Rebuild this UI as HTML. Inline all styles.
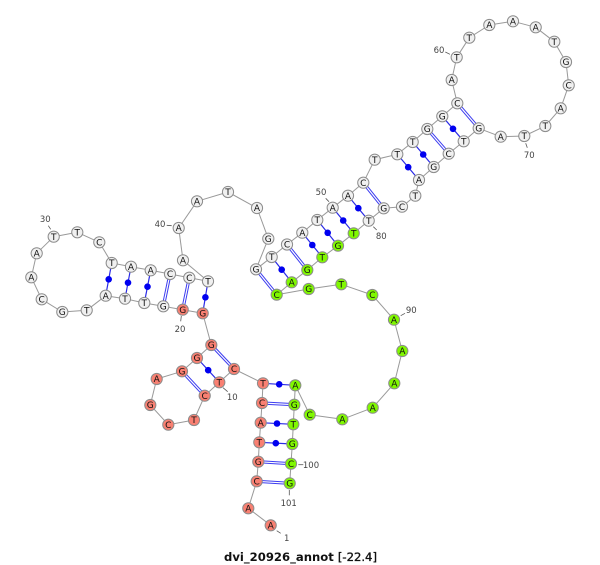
<!DOCTYPE html>
<html><head><meta charset="utf-8"><style>
html,body{margin:0;padding:0;background:#fff;width:600px;height:565px;overflow:hidden}
svg{display:block}
.b line{stroke:#999;stroke-width:1}
.s line{stroke:#2a2ae6;stroke-width:1.2}
.d1 line{stroke:#3c3cf0;stroke-width:3.2}
.d2 line{stroke:#fff;stroke-width:1.2}
.p circle{fill:#0000f0}
.t line{stroke:#555;stroke-width:.8}
.n circle{stroke:#8c8c8c;stroke-width:1;r:5.6px}
.w circle{fill:#f0f0f0}.r circle{fill:#f98072}.g circle{fill:#80f800}
.n text{font:9px "DejaVu Sans",sans-serif;fill:#111;text-anchor:middle}
.l text{font:8.5px "DejaVu Sans",sans-serif;fill:#444;text-anchor:middle}
</style></head><body>
<svg width="600" height="565" viewBox="0 0 600 565" xmlns="http://www.w3.org/2000/svg">
<g class="b">
<line x1="270.7" y1="525.3" x2="248.3" y2="508.3"/><line x1="248.3" y1="508.3" x2="256.7" y2="481.3"/><line x1="256.7" y1="481.3" x2="258.3" y2="461.7"/><line x1="258.3" y1="461.7" x2="259.3" y2="442.3"/><line x1="259.3" y1="442.3" x2="260.7" y2="422.7"/><line x1="260.7" y1="422.7" x2="262" y2="403"/><line x1="262" y1="403" x2="263" y2="383.3"/><line x1="263" y1="383.3" x2="234" y2="369"/><line x1="234" y1="369" x2="219.3" y2="382.3"/><line x1="219.3" y1="382.3" x2="204.7" y2="395.7"/><line x1="204.7" y1="395.7" x2="194" y2="420"/><line x1="194" y1="420" x2="168.3" y2="424.7"/><line x1="168.3" y1="424.7" x2="150.3" y2="405"/><line x1="150.3" y1="405" x2="156.7" y2="379"/><line x1="156.7" y1="379" x2="182" y2="371.3"/><line x1="182" y1="371.3" x2="197" y2="358"/><line x1="197" y1="358" x2="211.3" y2="345"/><line x1="211.3" y1="345" x2="202.7" y2="313.3"/><line x1="202.7" y1="313.3" x2="182.7" y2="309.7"/><line x1="182.7" y1="309.7" x2="163.3" y2="306.3"/><line x1="163.3" y1="306.3" x2="144.3" y2="303"/><line x1="144.3" y1="303" x2="125" y2="298.7"/><line x1="125" y1="298.7" x2="105.7" y2="295.7"/><line x1="105.7" y1="295.7" x2="86.7" y2="310.3"/><line x1="86.7" y1="310.3" x2="62.3" y2="312"/><line x1="62.3" y1="312" x2="41.7" y2="299.3"/><line x1="41.7" y1="299.3" x2="31.3" y2="277.3"/><line x1="31.3" y1="277.3" x2="36.7" y2="253.3"/><line x1="36.7" y1="253.3" x2="53.7" y2="236.7"/><line x1="53.7" y1="236.7" x2="77.3" y2="232.3"/><line x1="77.3" y1="232.3" x2="99.3" y2="242.3"/><line x1="99.3" y1="242.3" x2="111.7" y2="263"/><line x1="111.7" y1="263" x2="131" y2="266.7"/><line x1="131" y1="266.7" x2="150.7" y2="270.3"/><line x1="150.7" y1="270.3" x2="170" y2="274"/><line x1="170" y1="274" x2="189.3" y2="277.7"/><line x1="189.3" y1="277.7" x2="208" y2="281.3"/><line x1="208" y1="281.3" x2="183" y2="260.3"/><line x1="183" y1="260.3" x2="178.7" y2="228"/><line x1="178.7" y1="228" x2="197" y2="201.3"/><line x1="197" y1="201.3" x2="228" y2="192"/><line x1="228" y1="192" x2="257" y2="208"/><line x1="257" y1="208" x2="268.3" y2="238.7"/><line x1="268.3" y1="238.7" x2="256" y2="269.3"/><line x1="256" y1="269.3" x2="271.7" y2="257"/><line x1="271.7" y1="257" x2="287" y2="244.5"/><line x1="287" y1="244.5" x2="302.3" y2="232.7"/><line x1="302.3" y1="232.7" x2="317.3" y2="220"/><line x1="317.3" y1="220" x2="332.7" y2="207.7"/><line x1="332.7" y1="207.7" x2="348" y2="195.7"/><line x1="348" y1="195.7" x2="363.3" y2="182.7"/><line x1="363.3" y1="182.7" x2="374.7" y2="159.7"/><line x1="374.7" y1="159.7" x2="397.3" y2="154.3"/><line x1="397.3" y1="154.3" x2="412.7" y2="142"/><line x1="412.7" y1="142" x2="427.3" y2="129"/><line x1="427.3" y1="129" x2="442.3" y2="116.3"/><line x1="442.3" y1="116.3" x2="457.3" y2="103.3"/><line x1="457.3" y1="103.3" x2="451.7" y2="80"/><line x1="451.7" y1="80" x2="456.7" y2="57.3"/><line x1="456.7" y1="57.3" x2="469.3" y2="37.7"/><line x1="469.3" y1="37.7" x2="489.3" y2="25"/><line x1="489.3" y1="25" x2="513" y2="21.3"/><line x1="513" y1="21.3" x2="535.7" y2="27.3"/><line x1="535.7" y1="27.3" x2="554.3" y2="41.7"/><line x1="554.3" y1="41.7" x2="566" y2="62"/><line x1="566" y1="62" x2="568.7" y2="85.3"/><line x1="568.7" y1="85.3" x2="560.7" y2="108.3"/><line x1="560.7" y1="108.3" x2="545.3" y2="126"/><line x1="545.3" y1="126" x2="524.3" y2="136"/><line x1="524.3" y1="136" x2="500.7" y2="136.7"/><line x1="500.7" y1="136.7" x2="478.7" y2="128.3"/><line x1="478.7" y1="128.3" x2="463.7" y2="141.3"/><line x1="463.7" y1="141.3" x2="448.7" y2="153.7"/><line x1="448.7" y1="153.7" x2="433.7" y2="167"/><line x1="433.7" y1="167" x2="419" y2="180"/><line x1="419" y1="180" x2="415.3" y2="195.7"/><line x1="415.3" y1="195.7" x2="402" y2="206.7"/><line x1="402" y1="206.7" x2="383.7" y2="208.3"/><line x1="383.7" y1="208.3" x2="368.7" y2="220.7"/><line x1="368.7" y1="220.7" x2="353.7" y2="233.3"/><line x1="353.7" y1="233.3" x2="338" y2="245.7"/><line x1="338" y1="245.7" x2="322.3" y2="257.3"/><line x1="322.3" y1="257.3" x2="307.3" y2="270"/><line x1="307.3" y1="270" x2="291.7" y2="282.3"/><line x1="291.7" y1="282.3" x2="276.7" y2="294.7"/><line x1="276.7" y1="294.7" x2="308.7" y2="289"/><line x1="308.7" y1="289" x2="341.3" y2="284.3"/><line x1="341.3" y1="284.3" x2="372.3" y2="295"/><line x1="372.3" y1="295" x2="394" y2="319.7"/><line x1="394" y1="319.7" x2="402.3" y2="351"/><line x1="402.3" y1="351" x2="394.3" y2="383.3"/><line x1="394.3" y1="383.3" x2="372.7" y2="407.7"/><line x1="372.7" y1="407.7" x2="342.3" y2="419.3"/><line x1="342.3" y1="419.3" x2="309.7" y2="414.7"/><line x1="309.7" y1="414.7" x2="295.3" y2="385.3"/><line x1="295.3" y1="385.3" x2="294.3" y2="404.7"/><line x1="294.3" y1="404.7" x2="293.3" y2="424.3"/><line x1="293.3" y1="424.3" x2="292.3" y2="444"/><line x1="292.3" y1="444" x2="291" y2="463.7"/><line x1="291" y1="463.7" x2="289.7" y2="483.3"/>
</g>
<g class="s">
<line x1="259.3" y1="442.3" x2="292.3" y2="444"/><line x1="260.7" y1="422.7" x2="293.3" y2="424.3"/><line x1="263" y1="383.3" x2="295.3" y2="385.3"/><line x1="219.3" y1="382.3" x2="197" y2="358"/><line x1="202.7" y1="313.3" x2="208" y2="281.3"/><line x1="144.3" y1="303" x2="150.7" y2="270.3"/><line x1="125" y1="298.7" x2="131" y2="266.7"/><line x1="105.7" y1="295.7" x2="111.7" y2="263"/><line x1="271.7" y1="257" x2="291.7" y2="282.3"/><line x1="302.3" y1="232.7" x2="322.3" y2="257.3"/><line x1="317.3" y1="220" x2="338" y2="245.7"/><line x1="332.7" y1="207.7" x2="353.7" y2="233.3"/><line x1="348" y1="195.7" x2="368.7" y2="220.7"/><line x1="397.3" y1="154.3" x2="419" y2="180"/><line x1="412.7" y1="142" x2="433.7" y2="167"/><line x1="442.3" y1="116.3" x2="463.7" y2="141.3"/>
</g>
<g class="d1">
<line x1="256.7" y1="481.3" x2="289.7" y2="483.3"/><line x1="258.3" y1="461.7" x2="291" y2="463.7"/><line x1="262" y1="403" x2="294.3" y2="404.7"/><line x1="234" y1="369" x2="211.3" y2="345"/><line x1="204.7" y1="395.7" x2="182" y2="371.3"/><line x1="182.7" y1="309.7" x2="189.3" y2="277.7"/><line x1="163.3" y1="306.3" x2="170" y2="274"/><line x1="256" y1="269.3" x2="276.7" y2="294.7"/><line x1="287" y1="244.5" x2="307.3" y2="270"/><line x1="363.3" y1="182.7" x2="383.7" y2="208.3"/><line x1="427.3" y1="129" x2="448.7" y2="153.7"/><line x1="457.3" y1="103.3" x2="478.7" y2="128.3"/>
</g>
<g class="d2">
<line x1="256.7" y1="481.3" x2="289.7" y2="483.3"/><line x1="258.3" y1="461.7" x2="291" y2="463.7"/><line x1="262" y1="403" x2="294.3" y2="404.7"/><line x1="234" y1="369" x2="211.3" y2="345"/><line x1="204.7" y1="395.7" x2="182" y2="371.3"/><line x1="182.7" y1="309.7" x2="189.3" y2="277.7"/><line x1="163.3" y1="306.3" x2="170" y2="274"/><line x1="256" y1="269.3" x2="276.7" y2="294.7"/><line x1="287" y1="244.5" x2="307.3" y2="270"/><line x1="363.3" y1="182.7" x2="383.7" y2="208.3"/><line x1="427.3" y1="129" x2="448.7" y2="153.7"/><line x1="457.3" y1="103.3" x2="478.7" y2="128.3"/>
</g>
<g class="p">
<circle cx="275.8" cy="443.2" r="3.3"/><circle cx="277" cy="423.5" r="3.3"/><circle cx="279.2" cy="384.3" r="3.3"/><circle cx="208.2" cy="370.2" r="3.3"/><circle cx="205.4" cy="297.3" r="3.3"/><circle cx="147.5" cy="286.7" r="3.3"/><circle cx="128" cy="282.7" r="3.3"/><circle cx="108.7" cy="279.3" r="3.3"/><circle cx="281.7" cy="269.7" r="3.3"/><circle cx="312.3" cy="245" r="3.3"/><circle cx="327.7" cy="232.8" r="3.3"/><circle cx="343.2" cy="220.5" r="3.3"/><circle cx="358.3" cy="208.2" r="3.3"/><circle cx="408.2" cy="167.2" r="3.3"/><circle cx="423.2" cy="154.5" r="3.3"/><circle cx="453" cy="128.8" r="3.3"/>
</g>
<g class="t">
<line x1="276.7" y1="530.7" x2="280.7" y2="533.3"/><line x1="223" y1="387.7" x2="227.7" y2="391.7"/><line x1="298.3" y1="464.7" x2="303.3" y2="464.7"/><line x1="289.3" y1="490" x2="289.3" y2="495.3"/><line x1="400.7" y1="315.7" x2="405" y2="313.3"/><line x1="373.3" y1="226.7" x2="376.7" y2="230"/><line x1="525.7" y1="143.3" x2="527.3" y2="147.7"/><line x1="445.3" y1="52" x2="450" y2="54.3"/><line x1="325.7" y1="198.3" x2="329" y2="201.7"/><line x1="166.7" y1="225.3" x2="171.7" y2="225.7"/><line x1="48.3" y1="225.7" x2="50.7" y2="229.3"/><line x1="181.3" y1="316" x2="180.7" y2="321.3"/>
</g>
<g class="n r">
<circle cx="270.7" cy="525.3"/><text x="270.7" y="528.5">A</text>
<circle cx="248.3" cy="508.3"/><text x="248.3" y="511.5">A</text>
<circle cx="256.7" cy="481.3"/><text x="256.7" y="484.5">C</text>
<circle cx="258.3" cy="461.7"/><text x="258.3" y="464.9">G</text>
<circle cx="259.3" cy="442.3"/><text x="259.3" y="445.5">T</text>
<circle cx="260.7" cy="422.7"/><text x="260.7" y="425.9">A</text>
<circle cx="262" cy="403"/><text x="262" y="406.2">C</text>
<circle cx="263" cy="383.3"/><text x="263" y="386.5">T</text>
<circle cx="234" cy="369"/><text x="234" y="372.2">C</text>
<circle cx="219.3" cy="382.3"/><text x="219.3" y="385.5">T</text>
<circle cx="204.7" cy="395.7"/><text x="204.7" y="398.9">C</text>
<circle cx="194" cy="420"/><text x="194" y="423.2">T</text>
<circle cx="168.3" cy="424.7"/><text x="168.3" y="427.9">C</text>
<circle cx="150.3" cy="405"/><text x="150.3" y="408.2">G</text>
<circle cx="156.7" cy="379"/><text x="156.7" y="382.2">A</text>
<circle cx="182" cy="371.3"/><text x="182" y="374.5">G</text>
<circle cx="197" cy="358"/><text x="197" y="361.2">G</text>
<circle cx="211.3" cy="345"/><text x="211.3" y="348.2">G</text>
<circle cx="202.7" cy="313.3"/><text x="202.7" y="316.5">G</text>
<circle cx="182.7" cy="309.7"/><text x="182.7" y="312.9">G</text>
</g>
<g class="n w">
<circle cx="163.3" cy="306.3"/><text x="163.3" y="309.5">G</text>
<circle cx="144.3" cy="303"/><text x="144.3" y="306.2">T</text>
<circle cx="125" cy="298.7"/><text x="125" y="301.9">T</text>
<circle cx="105.7" cy="295.7"/><text x="105.7" y="298.9">A</text>
<circle cx="86.7" cy="310.3"/><text x="86.7" y="313.5">T</text>
<circle cx="62.3" cy="312"/><text x="62.3" y="315.2">G</text>
<circle cx="41.7" cy="299.3"/><text x="41.7" y="302.5">C</text>
<circle cx="31.3" cy="277.3"/><text x="31.3" y="280.5">A</text>
<circle cx="36.7" cy="253.3"/><text x="36.7" y="256.5">A</text>
<circle cx="53.7" cy="236.7"/><text x="53.7" y="239.9">T</text>
<circle cx="77.3" cy="232.3"/><text x="77.3" y="235.5">T</text>
<circle cx="99.3" cy="242.3"/><text x="99.3" y="245.5">C</text>
<circle cx="111.7" cy="263"/><text x="111.7" y="266.2">T</text>
<circle cx="131" cy="266.7"/><text x="131" y="269.9">A</text>
<circle cx="150.7" cy="270.3"/><text x="150.7" y="273.5">A</text>
<circle cx="170" cy="274"/><text x="170" y="277.2">C</text>
<circle cx="189.3" cy="277.7"/><text x="189.3" y="280.9">C</text>
<circle cx="208" cy="281.3"/><text x="208" y="284.5">T</text>
<circle cx="183" cy="260.3"/><text x="183" y="263.5">A</text>
<circle cx="178.7" cy="228"/><text x="178.7" y="231.2">A</text>
<circle cx="197" cy="201.3"/><text x="197" y="204.5">A</text>
<circle cx="228" cy="192"/><text x="228" y="195.2">T</text>
<circle cx="257" cy="208"/><text x="257" y="211.2">A</text>
<circle cx="268.3" cy="238.7"/><text x="268.3" y="241.9">G</text>
<circle cx="256" cy="269.3"/><text x="256" y="272.5">G</text>
<circle cx="271.7" cy="257"/><text x="271.7" y="260.2">T</text>
<circle cx="287" cy="244.5"/><text x="287" y="247.7">C</text>
<circle cx="302.3" cy="232.7"/><text x="302.3" y="235.9">A</text>
<circle cx="317.3" cy="220"/><text x="317.3" y="223.2">T</text>
<circle cx="332.7" cy="207.7"/><text x="332.7" y="210.9">A</text>
<circle cx="348" cy="195.7"/><text x="348" y="198.9">A</text>
<circle cx="363.3" cy="182.7"/><text x="363.3" y="185.9">C</text>
<circle cx="374.7" cy="159.7"/><text x="374.7" y="162.9">T</text>
<circle cx="397.3" cy="154.3"/><text x="397.3" y="157.5">T</text>
<circle cx="412.7" cy="142"/><text x="412.7" y="145.2">T</text>
<circle cx="427.3" cy="129"/><text x="427.3" y="132.2">G</text>
<circle cx="442.3" cy="116.3"/><text x="442.3" y="119.5">G</text>
<circle cx="457.3" cy="103.3"/><text x="457.3" y="106.5">C</text>
<circle cx="451.7" cy="80"/><text x="451.7" y="83.2">A</text>
<circle cx="456.7" cy="57.3"/><text x="456.7" y="60.5">T</text>
<circle cx="469.3" cy="37.7"/><text x="469.3" y="40.9">T</text>
<circle cx="489.3" cy="25"/><text x="489.3" y="28.2">A</text>
<circle cx="513" cy="21.3"/><text x="513" y="24.5">A</text>
<circle cx="535.7" cy="27.3"/><text x="535.7" y="30.5">A</text>
<circle cx="554.3" cy="41.7"/><text x="554.3" y="44.9">T</text>
<circle cx="566" cy="62"/><text x="566" y="65.2">G</text>
<circle cx="568.7" cy="85.3"/><text x="568.7" y="88.5">C</text>
<circle cx="560.7" cy="108.3"/><text x="560.7" y="111.5">A</text>
<circle cx="545.3" cy="126"/><text x="545.3" y="129.2">T</text>
<circle cx="524.3" cy="136"/><text x="524.3" y="139.2">T</text>
<circle cx="500.7" cy="136.7"/><text x="500.7" y="139.9">A</text>
<circle cx="478.7" cy="128.3"/><text x="478.7" y="131.5">G</text>
<circle cx="463.7" cy="141.3"/><text x="463.7" y="144.5">T</text>
<circle cx="448.7" cy="153.7"/><text x="448.7" y="156.9">C</text>
<circle cx="433.7" cy="167"/><text x="433.7" y="170.2">G</text>
<circle cx="419" cy="180"/><text x="419" y="183.2">A</text>
<circle cx="415.3" cy="195.7"/><text x="415.3" y="198.9">T</text>
<circle cx="402" cy="206.7"/><text x="402" y="209.9">C</text>
<circle cx="383.7" cy="208.3"/><text x="383.7" y="211.5">G</text>
<circle cx="368.7" cy="220.7"/><text x="368.7" y="223.9">T</text>
</g>
<g class="n g">
<circle cx="353.7" cy="233.3"/><text x="353.7" y="236.5">T</text>
<circle cx="338" cy="245.7"/><text x="338" y="248.9">G</text>
<circle cx="322.3" cy="257.3"/><text x="322.3" y="260.5">T</text>
<circle cx="307.3" cy="270"/><text x="307.3" y="273.2">G</text>
<circle cx="291.7" cy="282.3"/><text x="291.7" y="285.5">A</text>
<circle cx="276.7" cy="294.7"/><text x="276.7" y="297.9">C</text>
<circle cx="308.7" cy="289"/><text x="308.7" y="292.2">G</text>
<circle cx="341.3" cy="284.3"/><text x="341.3" y="287.5">T</text>
<circle cx="372.3" cy="295"/><text x="372.3" y="298.2">C</text>
<circle cx="394" cy="319.7"/><text x="394" y="322.9">A</text>
<circle cx="402.3" cy="351"/><text x="402.3" y="354.2">A</text>
<circle cx="394.3" cy="383.3"/><text x="394.3" y="386.5">A</text>
<circle cx="372.7" cy="407.7"/><text x="372.7" y="410.9">A</text>
<circle cx="342.3" cy="419.3"/><text x="342.3" y="422.5">A</text>
<circle cx="309.7" cy="414.7"/><text x="309.7" y="417.9">C</text>
<circle cx="295.3" cy="385.3"/><text x="295.3" y="388.5">A</text>
<circle cx="294.3" cy="404.7"/><text x="294.3" y="407.9">G</text>
<circle cx="293.3" cy="424.3"/><text x="293.3" y="427.5">T</text>
<circle cx="292.3" cy="444"/><text x="292.3" y="447.2">G</text>
<circle cx="291" cy="463.7"/><text x="291" y="466.9">C</text>
<circle cx="289.7" cy="483.3"/><text x="289.7" y="486.5">G</text>
</g>
<g class="l">
<text x="286.7" y="541">1</text><text x="232.3" y="400">10</text><text x="180" y="332">20</text><text x="45.3" y="222">30</text><text x="160" y="227">40</text><text x="321" y="195">50</text><text x="439" y="53">60</text><text x="529.3" y="158">70</text><text x="381.3" y="239">80</text><text x="411.3" y="313">90</text><text x="311" y="468">100</text><text x="288.7" y="506">101</text>
</g>
<text x="224" y="561" font-family="DejaVu Sans, sans-serif" font-size="11.5" font-weight="bold" fill="#111" textLength="153" lengthAdjust="spacingAndGlyphs">dvi_20926_annot <tspan font-weight="normal" stroke="#111" stroke-width="0.35">[-22.4]</tspan></text>
</svg>
</body></html>
